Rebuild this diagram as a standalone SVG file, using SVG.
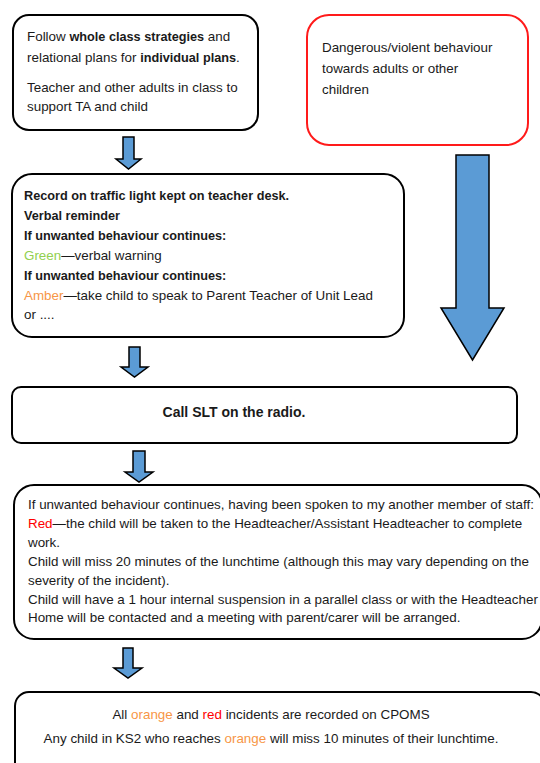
<svg xmlns="http://www.w3.org/2000/svg" width="540" height="763" viewBox="0 0 540 763">
<style>
.box{fill:#fff;stroke:#000;stroke-width:2}
.red{fill:#fff;stroke:#FF1A1A;stroke-width:2}
.arr{fill:#5B9BD5;stroke:#000;stroke-width:1.5;stroke-linejoin:miter}
text{font-family:"Liberation Sans",Arial,sans-serif;font-size:13.4px;fill:#1a1a1a}
.b{font-weight:bold;font-size:12.7px}
.g{fill:#92D050}
.o{fill:#F79646}
.r{fill:#FF0000}
.t{font-size:14px;font-weight:bold}
</style>
<rect width="540" height="763" fill="#fff"/>
<g id="connectors">
<polygon class="arr" points="123,137 134,137 134,159 141,159 128.5,169 116,159 123,159"/>
<polygon class="arr" points="456,155 489,155 489,308 504,308 472.5,360 441,308 456,308"/>
<polygon class="arr" points="129,347 140,347 140,367 148,367 134.5,377 121,367 129,367"/>
<polygon class="arr" points="133,451 145,451 145,472 153,472 139,482 125,472 133,472"/>
<polygon class="arr" points="123,648 133,648 133,668 142,668 128,678 114,668 123,668"/>
</g>
<g id="node-strategies">
<rect class="box" x="13" y="15" width="245" height="115" rx="16"/>
<text x="27" y="41" font-size="13.1">Follow <tspan class="b">whole class strategies</tspan> and</text>
<text x="27" y="62" font-size="13.1">relational plans for <tspan class="b">individual plans</tspan>.</text>
<text x="27" y="92" font-size="13.1">Teacher and other adults in class to</text>
<text x="27" y="111" font-size="13.1">support TA and child</text>
</g>
<g id="node-dangerous">
<rect class="red" x="307" y="15" width="221" height="130" rx="22"/>
<text x="322" y="52">Dangerous/violent behaviour</text>
<text x="322" y="73">towards adults or other</text>
<text x="322" y="94">children</text>
</g>
<g id="node-traffic-light">
<rect class="box" x="12" y="174" width="392" height="163" rx="20"/>
<text class="b" x="24" y="200">Record on traffic light kept on teacher desk.</text>
<text class="b" x="24" y="220">Verbal reminder</text>
<text class="b" x="24" y="240">If unwanted behaviour continues:</text>
<text x="24" y="260"><tspan class="g">Green</tspan>—verbal warning</text>
<text class="b" x="24" y="280">If unwanted behaviour continues:</text>
<text x="24" y="300"><tspan class="o">Amber</tspan>—take child to speak to Parent Teacher of Unit Lead</text>
<text x="24" y="319">or ....</text>
</g>
<g id="node-slt">
<rect class="box" x="12" y="387" width="505" height="56" rx="9"/>
<text class="t" x="234" y="417" text-anchor="middle">Call SLT on the radio.</text>
</g>
<g id="node-red">
<rect class="box" x="14" y="485" width="528" height="154" rx="20"/>
<text x="28" y="509">If unwanted behaviour continues, having been spoken to my another member of staff:</text>
<text x="28" y="528"><tspan class="r">Red</tspan>—the child will be taken to the Headteacher/Assistant Headteacher to complete</text>
<text x="28" y="547">work.</text>
<text x="28" y="566">Child will miss 20 minutes of the lunchtime (although this may vary depending on the</text>
<text x="28" y="585">severity of the incident).</text>
<text x="28" y="604">Child will have a 1 hour internal suspension in a parallel class or with the Headteacher</text>
<text x="28" y="622">Home will be contacted and a meeting with parent/carer will be arranged.</text>
</g>
<g id="node-cpoms">
<rect class="box" x="15" y="692" width="530" height="90" rx="14"/>
<text x="271" y="719" text-anchor="middle">All <tspan class="o">orange</tspan> and <tspan class="r">red</tspan> incidents are recorded on CPOMS</text>
<text x="271" y="743" text-anchor="middle">Any child in KS2 who reaches <tspan class="o">orange</tspan> will miss 10 minutes of their lunchtime.</text>
</g>
</svg>
